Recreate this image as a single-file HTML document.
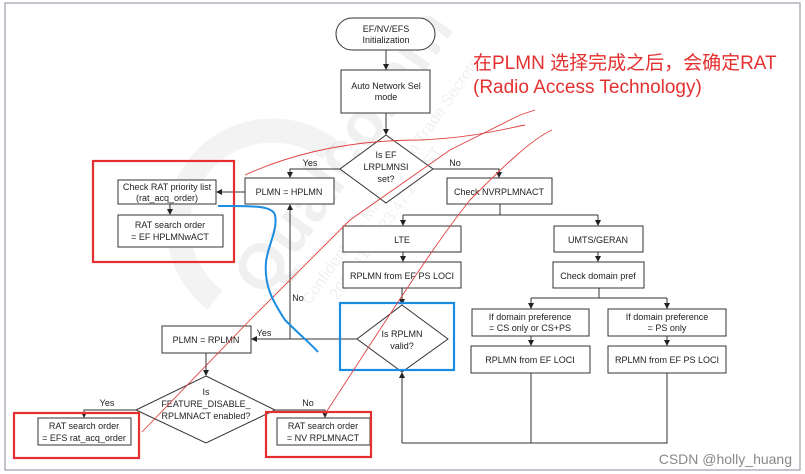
<!DOCTYPE html>
<html><head><meta charset="utf-8"><style>
html,body{margin:0;padding:0;background:#fff;}
svg{display:block;}
text{font-family:"Liberation Sans",Arial,sans-serif;font-size:9px;fill:#222;}
</style></head><body>
<svg width="805" height="474" viewBox="0 0 805 474" xmlns="http://www.w3.org/2000/svg">
<defs>
<marker id="a" markerWidth="6" markerHeight="6" refX="5" refY="3" orient="auto" markerUnits="userSpaceOnUse">
<path d="M0,0 L6,3 L0,6 z" fill="#222"/></marker>
</defs>
<rect x="0" y="0" width="805" height="474" fill="#fff"/>
<rect x="5" y="3" width="795" height="467" fill="none" stroke="#9aa0aa" stroke-width="1.2"/>
<g opacity="0.07" fill="none" stroke="#555">
<path d="M215,300 A90,90 0 1 1 330,150" stroke-width="24"/>
</g>
<g transform="translate(300,250) rotate(-55)" opacity="0.1">
<text x="-60" y="0" style="font-size:64px;font-weight:bold;fill:#777">Qualcomm</text>
<text x="-40" y="40" style="font-size:16px;fill:#777">Confidential – May Contain Trade Secrets</text>
<text x="-20" y="60" style="font-size:16px;fill:#777">2020-11-01 23:47:27 PST</text>
</g>
<g fill="#fff" stroke="#333" stroke-width="1">
<rect x="336" y="18" width="99" height="32" rx="16"/>
<rect x="341" y="70" width="89" height="43"/>
<polygon points="386,135 433,169 386,203 340,169"/>
<rect x="245" y="178" width="89" height="26"/>
<rect x="447" y="178" width="105" height="26"/>
<rect x="118" y="180" width="98" height="24"/>
<rect x="118" y="215" width="105" height="32"/>
<rect x="343" y="226" width="118" height="26"/>
<rect x="554" y="226" width="89" height="26"/>
<rect x="343" y="262" width="118" height="26"/>
<rect x="553" y="262" width="91" height="26"/>
<polygon points="402,305 448,339 402,372 357,339"/>
<rect x="472" y="309" width="117" height="27"/>
<rect x="608" y="309" width="118" height="27"/>
<rect x="471" y="346" width="119" height="27"/>
<rect x="608" y="346" width="118" height="27"/>
<rect x="162" y="326" width="89" height="27"/>
<polygon points="206,376 275,410 206,443 136,410"/>
<rect x="38" y="418" width="93" height="27"/>
<rect x="277" y="418" width="93" height="27"/>
</g>
<g fill="none" stroke="#333" stroke-width="1">
<line x1="386" y1="50" x2="386" y2="69" marker-end="url(#a)"/>
<line x1="386" y1="113" x2="386" y2="134" marker-end="url(#a)"/>
<polyline points="340,169 290,169 290,177" marker-end="url(#a)"/>
<polyline points="433,169 499,169 499,177" marker-end="url(#a)"/>
<line x1="245" y1="192" x2="217" y2="192" marker-end="url(#a)"/>
<line x1="170" y1="204" x2="170" y2="214" marker-end="url(#a)"/>
<polyline points="500,204 500,215"/>
<polyline points="403,215 598,215"/>
<line x1="403" y1="215" x2="403" y2="225" marker-end="url(#a)"/>
<line x1="598" y1="215" x2="598" y2="225" marker-end="url(#a)"/>
<line x1="403" y1="252" x2="403" y2="261" marker-end="url(#a)"/>
<line x1="598" y1="252" x2="598" y2="261" marker-end="url(#a)"/>
<line x1="402" y1="288" x2="402" y2="304" marker-end="url(#a)"/>
<polyline points="599,288 599,298"/>
<polyline points="531,298 667,298"/>
<line x1="531" y1="298" x2="531" y2="308" marker-end="url(#a)"/>
<line x1="667" y1="298" x2="667" y2="308" marker-end="url(#a)"/>
<line x1="531" y1="336" x2="531" y2="345" marker-end="url(#a)"/>
<line x1="667" y1="336" x2="667" y2="345" marker-end="url(#a)"/>
<polyline points="531,373 531,443"/>
<polyline points="667,373 667,443 402,443"/>
<line x1="402" y1="443" x2="402" y2="373" marker-end="url(#a)"/>
<line x1="357" y1="339" x2="252" y2="339" marker-end="url(#a)"/>
<line x1="290" y1="339" x2="290" y2="205" marker-end="url(#a)"/>
<line x1="206" y1="353" x2="206" y2="375" marker-end="url(#a)"/>
<polyline points="136,410 84,410 84,417" marker-end="url(#a)"/>
<polyline points="275,410 325,410 325,417" marker-end="url(#a)"/>
</g>
<g text-anchor="middle">
<text x="386" y="32">EF/NV/EFS</text><text x="386" y="43">Initialization</text>
<text x="386" y="89">Auto Network Sel</text><text x="386" y="100">mode</text>
<text x="386" y="158">Is EF</text><text x="386" y="170">LRPLMNSI</text><text x="386" y="182">set?</text>
<text x="310" y="166">Yes</text><text x="455" y="166">No</text>
<text x="289" y="195">PLMN = HPLMN</text>
<text x="499" y="195">Check NVRPLMNACT</text>
<text x="167" y="190">Check RAT priority list</text><text x="167" y="201">(rat_acq_order)</text>
<text x="170" y="228">RAT search order</text><text x="170" y="240">= EF HPLMNwACT</text>
<text x="402" y="243">LTE</text>
<text x="598" y="243">UMTS/GERAN</text>
<text x="402" y="279">RPLMN from EF PS LOCI</text>
<text x="598" y="279">Check domain pref</text>
<text x="402" y="337">Is RPLMN</text><text x="402" y="349">valid?</text>
<text x="530" y="320">If domain preference</text><text x="530" y="331">= CS only or CS+PS</text>
<text x="667" y="320">If domain preference</text><text x="667" y="331">= PS only</text>
<text x="530" y="363">RPLMN from EF LOCI</text>
<text x="667" y="363">RPLMN from EF PS LOCI</text>
<text x="206" y="343">PLMN = RPLMN</text>
<text x="264" y="336">Yes</text><text x="298" y="301">No</text>
<text x="206" y="395">Is</text><text x="206" y="407">FEATURE_DISABLE_</text><text x="206" y="419">RPLMNACT enabled?</text>
<text x="107" y="406">Yes</text><text x="308" y="406">No</text>
<text x="84" y="429">RAT search order</text><text x="84" y="441">= EFS rat_acq_order</text>
<text x="323" y="429">RAT search order</text><text x="323" y="441">= NV RPLMNACT</text>
</g>
<g fill="none" stroke="#e53030" stroke-width="2.2">
<rect x="93" y="161" width="141" height="101"/>
<rect x="14" y="413" width="125" height="45"/>
<rect x="266" y="412" width="105" height="45"/>
</g>
<rect x="340" y="303" width="114" height="67" fill="none" stroke="#1a8de0" stroke-width="2.2"/>
<g fill="none" stroke="#e04040" stroke-width="0.9">
<path d="M142,432 L250,320 L350,220 L450,150 L520,115 L535,110"/>
<path d="M325,414 C380,330 430,250 470,200 C500,170 530,140 552,130"/>
<path d="M245,175 C300,150 360,140 420,140 C470,138 500,130 525,125"/>
</g>
<path d="M218,206 C250,206 272,205 275,215 C278,230 268,245 266,262 C264,285 272,300 285,320 C300,335 312,345 318,352" fill="none" stroke="#1a8de0" stroke-width="2"/>
<text x="473" y="69" style="font-size:19px;fill:#e53030;font-family:'Liberation Sans','Noto Sans CJK SC',sans-serif;">在PLMN 选择完成之后，会确定RAT</text>
<text x="473" y="93" style="font-size:19px;fill:#e53030;">(Radio Access Technology)</text>
<text x="792" y="464" text-anchor="end" style="font-size:14px;fill:#888;">CSDN @holly_huang</text>
</svg>
</body></html>
